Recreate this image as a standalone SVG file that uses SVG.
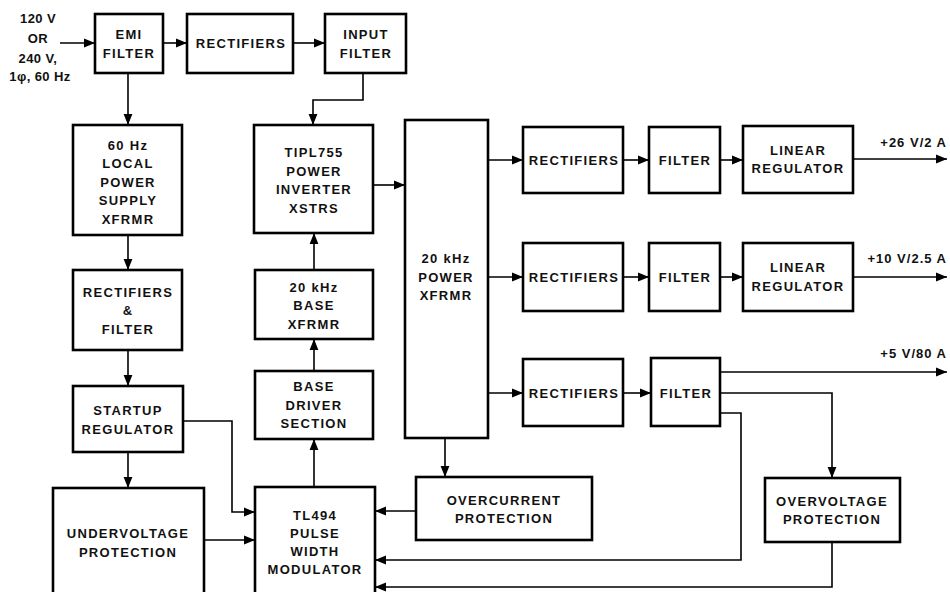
<svg xmlns="http://www.w3.org/2000/svg" width="950" height="592" viewBox="0 0 950 592">
<style>
.box{fill:#fff;stroke:#000;stroke-width:2.6}
.t{font-family:"Liberation Sans",Arial,sans-serif;font-weight:bold;font-size:13px;letter-spacing:1.3px;text-anchor:middle;fill:#111}
.s{letter-spacing:0.4px}
.o{letter-spacing:1px;text-anchor:end}
.c{fill:none;stroke:#000;stroke-width:1.6}
</style>
<defs>
<marker id="a" markerUnits="userSpaceOnUse" markerWidth="11" markerHeight="10" viewBox="0 0 11 10" refX="11" refY="5" orient="auto">
<path d="M0,0.6 L11,5 L0,9.4 Z" fill="#000"/>
</marker>
</defs>
<rect width="950" height="592" fill="#fff"/>
<g id="input-label">
<text class="t s" x="38" y="23">120 V</text>
<text class="t s" x="38" y="43">OR</text>
<text class="t s" x="38" y="63">240 V,</text>
<text class="t s" x="40" y="81">1φ, 60 Hz</text>
</g>
<g id="connectors">
<path class="c" d="M60,43H95" marker-end="url(#a)"/>
<path class="c" d="M163,43H187" marker-end="url(#a)"/>
<path class="c" d="M293,43H325" marker-end="url(#a)"/>
<path class="c" d="M128,73V125" marker-end="url(#a)"/>
<path class="c" d="M363,73V100H313V125" marker-end="url(#a)"/>
<path class="c" d="M128,235V270" marker-end="url(#a)"/>
<path class="c" d="M128,350V386" marker-end="url(#a)"/>
<path class="c" d="M128,452V488" marker-end="url(#a)"/>
<path class="c" d="M183,421H232V512H255" marker-end="url(#a)"/>
<path class="c" d="M204,540H255" marker-end="url(#a)"/>
<path class="c" d="M314,487V439" marker-end="url(#a)"/>
<path class="c" d="M314,371V339" marker-end="url(#a)"/>
<path class="c" d="M314,270V233" marker-end="url(#a)"/>
<path class="c" d="M373,185H405" marker-end="url(#a)"/>
<path class="c" d="M488,160H523" marker-end="url(#a)"/>
<path class="c" d="M488,277H523" marker-end="url(#a)"/>
<path class="c" d="M488,393H523" marker-end="url(#a)"/>
<path class="c" d="M623,160H649" marker-end="url(#a)"/>
<path class="c" d="M623,277H649" marker-end="url(#a)"/>
<path class="c" d="M623,393H651" marker-end="url(#a)"/>
<path class="c" d="M720,160H743" marker-end="url(#a)"/>
<path class="c" d="M720,277H743" marker-end="url(#a)"/>
<path class="c" d="M853,159H947" marker-end="url(#a)"/>
<path class="c" d="M853,277H947" marker-end="url(#a)"/>
<path class="c" d="M720,372H947" marker-end="url(#a)"/>
<path class="c" d="M720,393H832V478" marker-end="url(#a)"/>
<path class="c" d="M720,413H741V560H375" marker-end="url(#a)"/>
<path class="c" d="M832,542V587H375" marker-end="url(#a)"/>
<path class="c" d="M445,438V477" marker-end="url(#a)"/>
<path class="c" d="M416,511H375" marker-end="url(#a)"/>
</g>
<g id="emi-filter"><rect class="box" x="95" y="14" width="68" height="59"/><text class="t" x="129" y="39">EMI</text><text class="t" x="129" y="58">FILTER</text></g>
<g id="rectifiers-in"><rect class="box" x="187" y="14" width="106" height="59"/><text class="t" x="241" y="48">RECTIFIERS</text></g>
<g id="input-filter"><rect class="box" x="325" y="14" width="81" height="59"/><text class="t" x="366" y="39">INPUT</text><text class="t" x="366" y="58">FILTER</text></g>
<g id="local-xfrmr"><rect class="box" x="73" y="125" width="109" height="110"/>
<text class="t" x="128" y="150">60 Hz</text><text class="t" x="128" y="168">LOCAL</text><text class="t" x="128" y="187">POWER</text><text class="t" x="128" y="205">SUPPLY</text><text class="t" x="128" y="224">XFRMR</text></g>
<g id="rect-filter"><rect class="box" x="73" y="270" width="109" height="80"/>
<text class="t" x="128" y="297">RECTIFIERS</text><text class="t" x="128" y="315">&amp;</text><text class="t" x="128" y="334">FILTER</text></g>
<g id="startup"><rect class="box" x="73" y="386" width="110" height="66"/>
<text class="t" x="128" y="415">STARTUP</text><text class="t" x="128" y="434">REGULATOR</text></g>
<g id="undervoltage"><rect class="box" x="53" y="488" width="151" height="112"/>
<text class="t" x="128" y="538">UNDERVOLTAGE</text><text class="t" x="128" y="557">PROTECTION</text></g>
<g id="tipl755"><rect class="box" x="254" y="125" width="119" height="108"/>
<text class="t" x="314" y="157">TIPL755</text><text class="t" x="314" y="176">POWER</text><text class="t" x="314" y="194">INVERTER</text><text class="t" x="314" y="213">XSTRS</text></g>
<g id="base-xfrmr"><rect class="box" x="255" y="270" width="118" height="69"/>
<text class="t" x="314" y="292">20 kHz</text><text class="t" x="314" y="310">BASE</text><text class="t" x="314" y="329">XFRMR</text></g>
<g id="base-driver"><rect class="box" x="255" y="371" width="118" height="68"/>
<text class="t" x="314" y="391">BASE</text><text class="t" x="314" y="410">DRIVER</text><text class="t" x="314" y="428">SECTION</text></g>
<g id="tl494"><rect class="box" x="255" y="487" width="120" height="113"/>
<text class="t" x="315" y="520">TL494</text><text class="t" x="315" y="538">PULSE</text><text class="t" x="315" y="556">WIDTH</text><text class="t" x="315" y="574">MODULATOR</text></g>
<g id="power-xfrmr"><rect class="box" x="405" y="120" width="83" height="318"/>
<text class="t" x="446" y="263">20 kHz</text><text class="t" x="446" y="282">POWER</text><text class="t" x="446" y="300">XFRMR</text></g>
<g id="overcurrent"><rect class="box" x="416" y="477" width="176" height="63"/>
<text class="t" x="504" y="505">OVERCURRENT</text><text class="t" x="504" y="523">PROTECTION</text></g>
<g id="overvoltage"><rect class="box" x="765" y="478" width="135" height="64"/>
<text class="t" x="832" y="506">OVERVOLTAGE</text><text class="t" x="832" y="524">PROTECTION</text></g>
<g id="rect1"><rect class="box" x="523" y="127" width="100" height="66"/><text class="t" x="574" y="165">RECTIFIERS</text></g>
<g id="rect2"><rect class="box" x="523" y="243" width="100" height="68"/><text class="t" x="574" y="282">RECTIFIERS</text></g>
<g id="rect3"><rect class="box" x="523" y="359" width="100" height="67"/><text class="t" x="574" y="398">RECTIFIERS</text></g>
<g id="filter1"><rect class="box" x="649" y="127" width="71" height="66"/><text class="t" x="685" y="165">FILTER</text></g>
<g id="filter2"><rect class="box" x="649" y="243" width="71" height="68"/><text class="t" x="685" y="282">FILTER</text></g>
<g id="filter3"><rect class="box" x="651" y="358" width="69" height="68"/><text class="t" x="686" y="398">FILTER</text></g>
<g id="linreg1"><rect class="box" x="743" y="126" width="110" height="67"/><text class="t" x="798" y="155">LINEAR</text><text class="t" x="798" y="173">REGULATOR</text></g>
<g id="linreg2"><rect class="box" x="743" y="243" width="110" height="68"/><text class="t" x="798" y="272">LINEAR</text><text class="t" x="798" y="291">REGULATOR</text></g>
<g id="outputs">
<text class="t o" x="947" y="147">+26 V/2 A</text>
<text class="t o" x="947" y="263">+10 V/2.5 A</text>
<text class="t o" x="947" y="358">+5 V/80 A</text>
</g>
</svg>
